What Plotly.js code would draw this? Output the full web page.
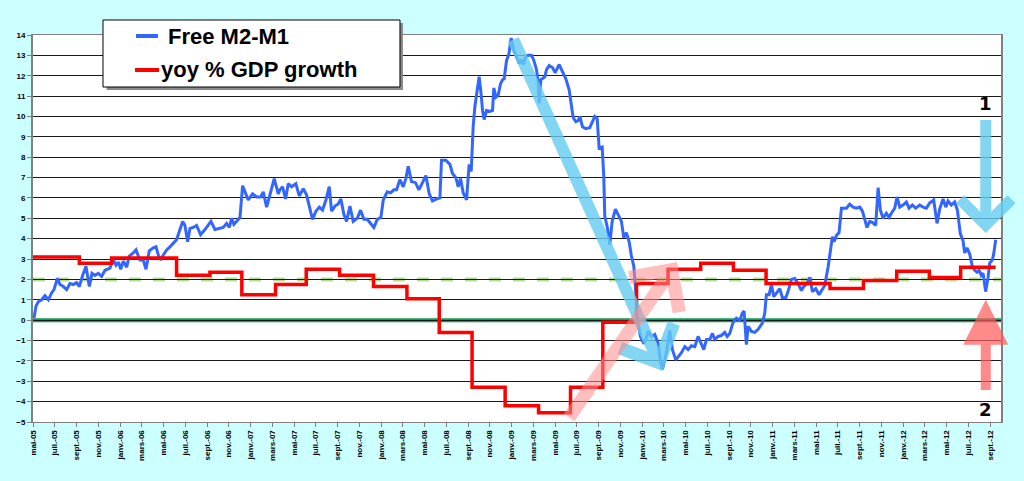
<!DOCTYPE html>
<html>
<head>
<meta charset="utf-8">
<script src="https://cdn.plot.ly/plotly-3.0.1.min.js"></script>
<style>
  html, body { margin: 0; padding: 0; background: #ccffff; }
  #chart { width: 1024px; height: 481px; }
</style>
</head>
<body>
<div id="chart"></div>
<script>
// x = months elapsed since May 2005 (0 = mai-05)
var m2m1Months = [
  0.09,0.28,0.49,0.80,1.10,1.41,1.72,1.93,2.24,2.48,2.79,3.09,3.40,3.71,4.01,4.26,4.56,4.87,5.18,5.42,
  5.70,6.00,6.31,6.62,7.08,7.38,7.63,7.87,8.06,8.30,8.61,8.85,9.22,9.47,9.83,10.14,10.39,10.69,11.06,11.31,
  11.52,11.76,11.98,12.29,12.59,12.90,13.20,13.51,13.76,13.97,14.22,14.43,14.74,15.04,15.41,15.81,16.36,16.73,17.13,17.49,
  17.80,18.05,18.26,18.47,19.03,19.27,19.49,19.79,20.19,20.56,20.93,21.17,21.48,21.78,22.18,22.55,
  22.70,22.95,23.22,23.47,23.77,24.17,24.48,24.85,25.15,25.40,25.70,26.01,26.32,26.62,26.93,27.24,27.45,27.76,28.06,28.31,
  28.58,28.83,29.14,29.44,29.81,30.12,30.42,30.73,31.04,31.34,31.65,31.99,32.20,32.57,32.87,33.18,33.43,33.73,34.04,34.28,
  34.50,34.80,35.17,35.48,35.81,36.12,36.43,36.73,37.10,37.41,37.56,37.96,38.33,38.57,38.88,39.09,39.31,39.55,39.86,40.10,40.29,
  40.47,40.63,40.84,41.02,41.21,41.33,41.48,41.70,42.00,42.25,42.37,42.56,42.77,42.98,43.17,43.32,43.54,43.75,43.96,44.21,
  44.52,44.70,44.88,45.07,45.31,45.53,45.83,46.05,46.29,46.45,46.54,46.69,47.06,47.21,47.46,47.76,48.01,48.38,48.68,48.99,
  49.30,49.45,49.66,49.91,50.12,50.28,50.52,50.83,51.19,51.44,51.65,51.87,52.05,52.33,52.48,
  52.57,52.79,53.03,53.25,53.55,53.89,54.10,54.32,54.56,54.81,55.02,55.24,55.36,55.48,55.64,55.85,56.16,56.34,56.56,56.86,
  57.17,57.48,57.69,57.87,58.09,58.30,58.55,58.79,59.10,59.41,59.62,59.93,60.23,60.54,60.85,61.15,61.37,61.67,61.92,62.22,
  62.47,62.68,62.99,63.30,63.60,63.82,64.06,64.37,64.67,64.98,65.23,65.38,65.59,65.75,66.05,66.36,66.67,67.06,67.28,67.43,
  67.68,67.89,68.11,68.41,68.66,68.90,69.21,69.42,69.73,70.04,70.34,
  70.65,70.86,71.17,71.42,71.66,71.97,72.27,72.49,72.79,73.10,73.31,73.50,73.65,73.87,74.11,74.33,74.54,74.79,75.09,75.40,
  75.70,76.01,76.26,76.47,76.68,76.93,77.17,77.48,77.70,77.91,78.16,78.46,78.71,78.92,79.23,79.44,79.69,79.99,80.30,80.54,
  80.85,81.16,81.53,81.83,82.14,82.44,82.81,83.12,83.36,83.67,83.92,84.13,84.44,84.74,84.99,85.26,85.51,85.66,85.88,86.12,
  86.34,86.58,86.80,86.98,87.19,87.35,87.59,87.81,87.96,88.20,88.33,88.51
];
var m2m1Values = [
  0.1,0.7,0.9,1.0,1.2,1.0,1.35,1.5,2.05,1.75,1.65,1.5,1.8,1.75,1.85,1.65,2.2,2.65,1.65,2.3,
  2.2,2.3,2.15,2.45,2.55,3.0,2.7,2.85,2.5,2.9,2.6,3.15,3.3,3.45,2.95,2.95,2.5,3.4,3.55,3.6,
  3.2,2.95,3.2,3.45,3.6,3.8,3.95,4.45,4.85,4.65,3.85,4.5,4.55,4.65,4.2,4.45,4.85,4.45,4.5,4.55,
  4.75,4.55,5.0,4.7,5.05,6.6,6.3,5.9,6.2,6.05,6.05,6.3,5.55,6.1,6.95,6.2,
  6.4,6.55,5.95,6.7,6.55,6.7,6.1,6.45,6.15,5.6,4.95,5.35,5.55,5.4,5.9,6.55,5.35,5.6,5.7,5.95,
  5.2,4.85,5.6,4.85,5.0,5.4,4.95,4.95,4.75,4.55,4.95,5.05,5.9,6.3,6.25,6.4,6.4,6.9,6.55,6.95,
  7.55,6.8,6.75,6.4,6.75,7.1,6.2,5.85,5.95,6.0,7.85,7.85,7.65,7.2,7.0,6.55,6.95,6.25,5.9,7.65,7.3,
  9.5,10.5,11.3,11.95,11.05,10.3,9.85,10.3,10.25,10.3,11.4,10.95,11.05,11.6,11.8,11.85,12.75,13.05,13.85,13.25,
  12.85,12.6,12.8,12.55,12.95,13.0,13.0,12.75,12.3,11.7,10.65,11.8,11.95,12.3,12.5,12.4,12.15,12.55,12.2,11.85,
  11.3,10.7,9.95,9.75,9.8,10.0,9.5,9.4,9.45,9.75,10.0,9.9,8.45,8.5,7.05,
  5.1,4.6,3.7,4.85,5.45,5.1,4.85,4.05,4.3,3.85,3.15,2.65,2.0,1.0,-0.15,-0.8,-1.15,-0.95,-0.55,-0.8,
  -0.7,-1.15,-2.05,-2.4,-1.95,-1.4,-0.5,-1.45,-1.95,-1.75,-1.6,-1.3,-1.45,-1.25,-1.3,-0.8,-1.05,-1.45,-0.95,-0.95,
  -0.65,-0.95,-0.8,-0.75,-0.6,-0.8,-0.65,-0.1,0.1,0.0,0.35,0.45,-1.2,-0.3,-0.55,-0.6,-0.45,-0.15,0.35,1.25,
  1.25,1.75,1.15,1.4,1.55,1.1,1.1,1.4,2.0,2.05,1.8,
  1.45,1.65,1.8,2.1,1.4,1.55,1.25,1.45,1.7,2.6,3.35,4.1,3.85,4.15,4.3,5.5,5.5,5.5,5.7,5.55,
  5.5,5.55,5.35,4.9,4.55,4.85,4.8,4.65,6.5,5.4,5.0,5.25,5.05,5.25,5.5,6.05,5.55,5.65,5.8,5.5,
  5.65,5.5,5.65,5.55,5.5,5.75,5.9,4.75,5.45,5.95,5.55,5.85,5.65,5.8,5.4,4.25,3.9,3.3,3.55,3.25,
  2.7,2.45,2.35,2.45,2.2,2.3,1.4,2.1,2.8,2.95,3.25,3.95
];

// quarterly yoy GDP growth, step starts (months since May 2005)
var gdpMonths = [0, 4.26, 7.23, 13.2, 16.27, 19.2, 22.3, 25.12, 28.19, 31.31, 34.38, 37.35, 40.37, 43.41,
  46.48, 49.42, 52.39, 55.49, 58.39, 61.39, 64.4, 67.4, 73.28, 76.35, 79.41, 82.41, 85.29, 88.51];
var gdpValues = [3.1, 2.8, 3.05, 2.2, 2.35, 1.25, 1.75, 2.5, 2.2, 1.65, 1.05, -0.6, -3.3, -4.2,
  -4.55, -3.3, -0.1, 1.8, 2.5, 2.8, 2.45, 1.8, 1.55, 1.95, 2.4, 2.1, 2.6, 2.6];

var seriesNames = ['Free M2-M1', 'yoy % GDP growth'];
var seriesColors = ['#3366ff', '#ff0000'];

var tickMonthNames = ['mai', 'juil.', 'sept.', 'nov.', 'janv.', 'mars'];
var tickYears = ['05','06','07','08','09','10','11','12'];

var tickVals = [], tickText = [];
for (var i = 0; i <= 88; i += 2) {
  var yr = tickYears[Math.floor((i + 4) / 12)];
  tickVals.push(i);
  tickText.push(tickMonthNames[(i / 2) % 6] + '-' + yr);
}

var tickFont = {family: 'Liberation Sans, Arial, sans-serif', size: 8, color: '#000', weight: 'bold'};
var legFont = {family: 'Liberation Sans, Arial, sans-serif', size: 22, color: '#000', weight: 'bold'};

var traces = [
  {
    x: m2m1Months, y: m2m1Values,
    mode: 'lines', name: seriesNames[0],
    line: {color: seriesColors[0], width: 3},
    type: 'scatter'
  },
  {
    x: gdpMonths, y: gdpValues,
    mode: 'lines', name: seriesNames[1],
    line: {color: seriesColors[1], width: 3.5, shape: 'hv'},
    type: 'scatter'
  }
];

// legend box drawn by hand (paper coords)
var legShapes = [
  {type: 'rect', xref: 'paper', yref: 'paper', x0: 0.0760, x1: 0.3822, y0: 0.8580, y1: 1.0310,
   fillcolor: '#8a8a8a', line: {width: 0}, layer: 'above'},
  {type: 'rect', xref: 'paper', yref: 'paper', x0: 0.0723, x1: 0.3791, y0: 0.8656, y1: 1.0388,
   fillcolor: '#ffffff', line: {color: '#000', width: 1}, layer: 'above'},
  {type: 'line', xref: 'paper', yref: 'paper', x0: 0.1064, x1: 0.1291, y0: 0.9974, y1: 0.9974,
   line: {color: seriesColors[0], width: 4}, layer: 'above'},
  {type: 'line', xref: 'paper', yref: 'paper', x0: 0.1054, x1: 0.1302, y0: 0.9096, y1: 0.9096,
   line: {color: seriesColors[1], width: 4}, layer: 'above'}
];

var layout = {
  width: 1024, height: 481,
  margin: {l: 33, r: 23, t: 35, b: 59},
  paper_bgcolor: '#ccffff',
  plot_bgcolor: '#ffffff',
  showlegend: false,
  xaxis: {
    range: [0, 89], tickvals: tickVals, ticktext: tickText, tickangle: -90,
    ticks: 'outside', ticklen: 4, tickcolor: '#808080',
    showgrid: false, zeroline: false,
    showline: true, linecolor: '#808080', linewidth: 1, mirror: true,
    tickfont: tickFont
  },
  yaxis: {
    range: [-5, 14], dtick: 1, tick0: 0,
    ticks: 'outside', ticklen: 4, tickcolor: '#808080',
    showgrid: true, gridcolor: '#1a1a1a', gridwidth: 1, zeroline: false,
    showline: true, linecolor: '#808080', linewidth: 2, mirror: true,
    tickfont: tickFont
  },
  shapes: [
    {type: 'line', xref: 'paper', x0: 0, x1: 1, yref: 'y', y0: 2, y1: 2, layer: 'between',
     line: {color: '#b8dc94', width: 4, dash: 'dash'}},
    {type: 'line', xref: 'paper', x0: 0, x1: 1, yref: 'y', y0: 0, y1: 0, layer: 'between',
     line: {color: '#00a550', width: 4}}
  ].concat(legShapes),
  annotations: [
    {x: 57.9, y: -2.5, ax: 44.1, ay: 13.85, axref: 'x', ayref: 'y', text: '', showarrow: true,
     arrowhead: 4, arrowsize: 0.95, arrowwidth: 12, arrowcolor: 'rgba(100,205,242,0.8)'},
    {x: 59.2, y: 2.85, ax: 49.2, ay: -4.85, axref: 'x', ayref: 'y', text: '', showarrow: true,
     arrowhead: 4, arrowsize: 0.9, arrowwidth: 13, arrowcolor: 'rgba(255,140,140,0.55)'},
    {x: 87.6, y: 4.28, ax: 87.6, ay: 9.9, axref: 'x', ayref: 'y', text: '', showarrow: true,
     arrowhead: 4, arrowsize: 0.9, arrowwidth: 11, arrowcolor: 'rgba(100,205,242,0.8)'},
    {x: 87.6, y: 1.0, ax: 87.6, ay: -3.5, axref: 'x', ayref: 'y', text: '', showarrow: true,
     arrowhead: 2, arrowsize: 0.9, arrowwidth: 10, arrowcolor: 'rgba(255,90,90,0.7)'},
    {x: 87.6, y: 10.65, text: '1', showarrow: false,
     font: {family: 'DejaVu Sans, sans-serif', size: 18, color: '#000', weight: 'bold'}},
    {x: 87.6, y: -4.4, text: '2', showarrow: false,
     font: {family: 'DejaVu Sans, sans-serif', size: 18, color: '#000', weight: 'bold'}},
    {xref: 'paper', yref: 'paper', x: 0.1374, y: 0.9974, xanchor: 'left', yanchor: 'middle',
     text: seriesNames[0], showarrow: false, font: legFont},
    {xref: 'paper', yref: 'paper', x: 0.1302, y: 0.9096, xanchor: 'left', yanchor: 'middle',
     text: seriesNames[1], showarrow: false, font: legFont}
  ]
};

Plotly.newPlot('chart', traces, layout, {displayModeBar: false, staticPlot: true});
</script>
</body>
</html>
